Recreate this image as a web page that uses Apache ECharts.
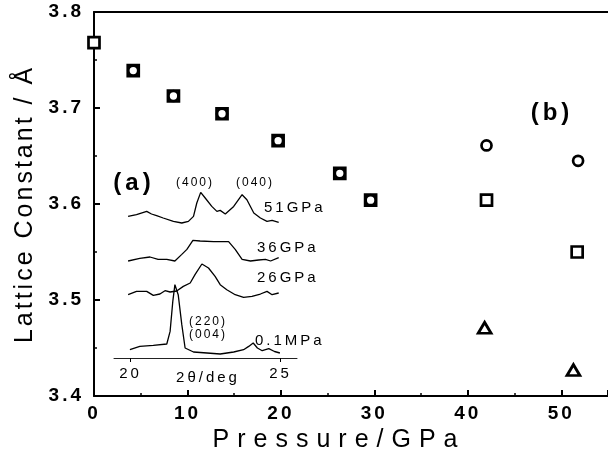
<!DOCTYPE html>
<html><head><meta charset="utf-8">
<script src="https://cdn.jsdelivr.net/npm/echarts@6/dist/echarts.min.js"></script>
<style>html,body{margin:0;padding:0;background:#fff}#c{width:608px;height:461px}</style>
</head><body><div id="c"></div>
<script>
// ---- main plot data (Pressure / GPa, Lattice constant / Å) ----
const circleP = [4.2, 8.5, 13.7, 19.7, 26.3, 29.6, 42.0, 51.8];
const circleA = [3.739, 3.7125, 3.694, 3.666, 3.632, 3.604, 3.661, 3.645];
const squareP = [0, 4.2, 8.5, 13.7, 19.7, 26.3, 29.6, 42.0, 51.7];
const squareA = [3.768, 3.739, 3.7125, 3.694, 3.666, 3.632, 3.604, 3.604, 3.55];
const triP = [41.8, 51.3];
const triA = [3.471, 3.427];

// ---- inset (a): XRD patterns, 2θ / deg and intensity (offset, arb. units) ----
const tt51 = [19.92,20.20,20.54,20.70,20.87,21.09,21.43,21.71,21.93,22.10,22.21,22.34,22.49,22.71,22.88,22.99,23.16,23.44,23.72,23.88,24.11,24.33,24.55,24.72,24.94];
const in51 = [141.6,143.3,146.6,144.0,142.3,140.0,136.6,135.0,136.6,141.6,155.0,165.6,160.0,151.6,146.6,147.6,144.0,151.6,163.3,158.3,145.0,140.0,136.6,137.6,135.6];
const tt36 = [19.92,20.31,20.65,20.92,21.21,21.48,21.71,21.88,22.08,22.32,22.77,23.27,23.49,23.72,24.00,24.27,24.50,24.67,24.94];
const in36 = [97.0,99.6,101.0,98.6,98.6,97.0,103.6,108.6,117.6,117.0,116.3,116.3,108.6,98.6,97.0,98.0,98.6,97.0,100.3];
const tt26 = [19.92,20.20,20.54,20.76,20.98,21.15,21.32,21.54,21.76,21.99,22.15,22.38,22.60,22.82,22.99,23.21,23.49,23.77,24.05,24.33,24.55,24.72,24.94];
const in26 = [63.3,66.6,66.6,62.6,64.0,67.3,66.0,67.0,71.6,75.0,83.3,94.0,90.0,81.6,73.3,68.3,63.3,60.6,61.6,64.0,66.6,63.3,65.0];
const tt01 = [19.98,20.31,20.76,21.21,21.32,21.41,21.48,21.59,21.71,21.82,22.10,22.55,22.99,23.44,23.77,23.94,24.09,24.23,24.39,24.61,24.80,24.98];
const in01 = [8.3,11.6,12.6,14.0,26.6,56.6,73.3,63.3,33.3,10.0,6.0,5.0,4.0,6.0,8.3,11.6,15.0,10.0,7.3,9.3,6.5,5.0];

const xTicksInset = [20, 25];

// letter spacing emulation (the original typography is widely spaced)
const spacingByText = {'Pressure/GPa': 8, 'Lattice Constant / Å': 3};
(function(){
  const proto = CanvasRenderingContext2D.prototype;
  const orig = proto.fillText;
  proto.fillText = function(t, x, y){
    let sp = spacingByText[t];
    if (sp === undefined) {
      const m = /(\d+(?:\.\d+)?)px/.exec(this.font);
      const fs = m ? +m[1] : 12;
      sp = Math.round(fs * 0.17);
    }
    const prev = this.letterSpacing;
    try { this.letterSpacing = sp + 'px'; } catch(e) {}
    if (arguments.length > 3) orig.call(this, t, x, y, arguments[3]); else orig.call(this, t, x, y);
    try { this.letterSpacing = prev; } catch(e) {}
  };
})();

const zip = (a, b) => a.map((v, i) => [v, b[i]]);
const FF = 'Liberation Sans';

const chart = echarts.init(document.getElementById('c'), null, {renderer: 'canvas'});

const markerStyle = {color: '#fff', borderColor: '#000', borderWidth: 2.7, opacity: 1};

function txt(text, x, y, size, align, bold) {
  return {type: 'text', x: x, y: y, silent: true,
    style: {text: text, fill: '#000', font: (bold ? 'bold ' : '') + size + 'px "' + FF + '"',
      align: align, verticalAlign: 'middle', textAlign: align, textVerticalAlign: 'middle'}};
}

chart.setOption({
  animation: false,
  backgroundColor: '#fff',
  textStyle: {fontFamily: FF, color: '#000'},
  grid: [
    {left: 94, right: 0, top: 12, bottom: 65},
    {left: 114, right: 311, top: 178, bottom: 103}
  ],
  xAxis: [
    {type: 'value', gridIndex: 0, min: 0, max: 55, interval: 10,
      axisLine: {lineStyle: {color: '#000', width: 2}},
      axisTick: {inside: true, length: 6, lineStyle: {color: '#000', width: 2}},
      minorTick: {show: true, splitNumber: 2, length: 3, lineStyle: {color: '#000', width: 1.5}},
      splitLine: {show: false},
      axisLabel: {color: '#000', fontSize: 19, fontWeight: 'bold', fontFamily: FF, margin: 8, showMaxLabel: false},
      name: 'Pressure/GPa', nameLocation: 'middle', nameGap: 32,
      nameTextStyle: {fontSize: 25, color: '#000', fontFamily: FF, padding: [0, 24, 0, 0]}},
    {type: 'value', gridIndex: 0, position: 'top', min: 0, max: 55,
      axisLine: {show: true, lineStyle: {color: '#000', width: 2}},
      axisTick: {show: false}, axisLabel: {show: false}, splitLine: {show: false}},
    {type: 'value', gridIndex: 1, min: 19.45, max: 25.55,
      axisLine: {lineStyle: {color: '#222', width: 1}},
      axisTick: {show: true, length: 4, customValues: xTicksInset, lineStyle: {color: '#000'}},
      axisLabel: {color: '#000', fontSize: 15, fontFamily: FF, margin: 8, customValues: xTicksInset},
      splitLine: {show: false}}
  ],
  yAxis: [
    {type: 'value', gridIndex: 0, min: 3.4, max: 3.8, interval: 0.1,
      axisLine: {lineStyle: {color: '#000', width: 2}},
      axisTick: {inside: true, length: 6, lineStyle: {color: '#000', width: 2}},
      minorTick: {show: true, splitNumber: 2, length: 3, lineStyle: {color: '#000', width: 1.5}},
      splitLine: {show: false},
      axisLabel: {color: '#000', fontSize: 19, fontWeight: 'bold', fontFamily: FF, margin: 10, padding: [6, 0, 0, 0],
        formatter: v => v.toFixed(1)},
      name: 'Lattice Constant / Å', nameLocation: 'middle', nameGap: 56,
      nameTextStyle: {fontSize: 25, color: '#000', fontFamily: FF}},
    {type: 'value', gridIndex: 1, min: 0, max: 180, show: false}
  ],
  series: [
    {type: 'scatter', xAxisIndex: 0, yAxisIndex: 0, symbol: 'rect', symbolSize: 11, clip: false,
      itemStyle: markerStyle, data: zip(squareP, squareA), z: 3},
    {type: 'scatter', xAxisIndex: 0, yAxisIndex: 0, symbol: 'circle', symbolSize: 10, clip: false,
      itemStyle: markerStyle, data: zip(circleP, circleA), z: 4},
    {type: 'scatter', xAxisIndex: 0, yAxisIndex: 0, symbol: 'triangle', symbolSize: [13, 11], clip: false,
      itemStyle: markerStyle, data: zip(triP, triA), z: 4},
    {type: 'line', xAxisIndex: 2, yAxisIndex: 1, showSymbol: false, symbol: 'none',
      lineStyle: {color: '#000', width: 1.3}, data: zip(tt51, in51)},
    {type: 'line', xAxisIndex: 2, yAxisIndex: 1, showSymbol: false, symbol: 'none',
      lineStyle: {color: '#000', width: 1.3}, data: zip(tt36, in36)},
    {type: 'line', xAxisIndex: 2, yAxisIndex: 1, showSymbol: false, symbol: 'none',
      lineStyle: {color: '#000', width: 1.3}, data: zip(tt26, in26)},
    {type: 'line', xAxisIndex: 2, yAxisIndex: 1, showSymbol: false, symbol: 'none',
      lineStyle: {color: '#000', width: 1.3}, data: zip(tt01, in01)}
  ],
  graphic: [
    txt('(a)', 134, 183, 24, 'center', true),
    txt('(b)', 552, 113, 24, 'center', true),
    txt('(400)', 195, 183, 12, 'center', false),
    txt('(040)', 255, 183, 12, 'center', false),
    txt('51GPa', 264, 208, 15, 'left', false),
    txt('36GPa', 257, 248, 15, 'left', false),
    txt('26GPa', 257, 278, 15, 'left', false),
    txt('0.1MPa', 255, 341, 15, 'left', false),
    txt('(220)', 208, 322, 12, 'center', false),
    txt('(004)', 208, 335, 12, 'center', false),
    txt('2θ/deg', 208, 378, 15, 'center', false)
  ]
});
</script>
</body></html>
